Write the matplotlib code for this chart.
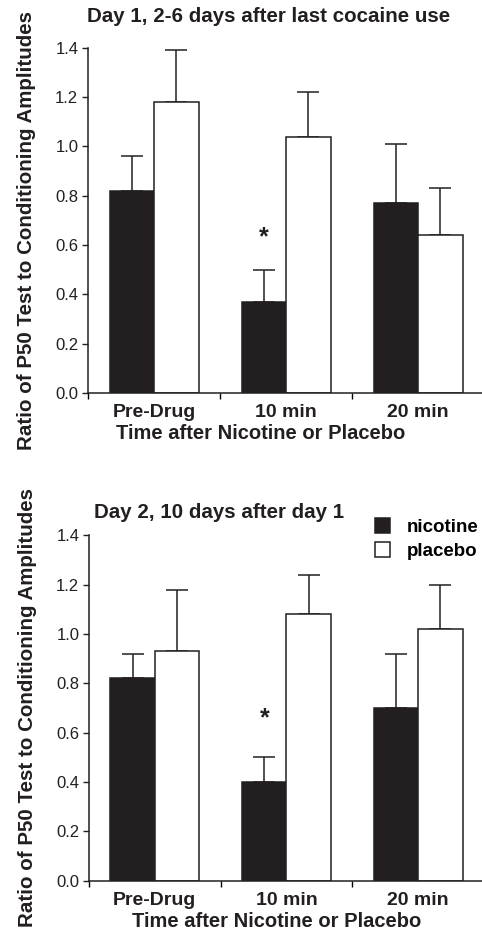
import matplotlib
matplotlib.use("Agg")
import matplotlib.pyplot as plt
import numpy as np

plt.rcParams["font.family"] = ["Liberation Sans", "DejaVu Sans"]

BAR_DARK = "#231f20"
INK = "#231f20"

categories = ["Pre-Drug", "10 min", "20 min"]

# Day 1
day1_nicotine = [0.82, 0.37, 0.77]
day1_nicotine_sem = [0.14, 0.13, 0.24]
day1_placebo = [1.18, 1.04, 0.64]
day1_placebo_sem = [0.21, 0.18, 0.19]
day1_star_y = 0.63

# Day 2
day2_nicotine = [0.82, 0.40, 0.70]
day2_nicotine_sem = [0.10, 0.10, 0.22]
day2_placebo = [0.93, 1.08, 1.02]
day2_placebo_sem = [0.25, 0.16, 0.18]
day2_star_y = 0.66

titles = ["Day 1, 2-6 days after last cocaine use", "Day 2, 10 days after day 1"]
yticks = [0.0, 0.2, 0.4, 0.6, 0.8, 1.0, 1.2, 1.4]


def draw_panel(ax, nic, nic_sem, plac, plac_sem, star_y, title, title_xy, xlab_x, ylab_y, legend=False):
    x = np.arange(len(categories))
    w = 0.337
    ax.bar(x - w / 2, nic, w, color=BAR_DARK, edgecolor=INK, linewidth=1.1, label="nicotine", zorder=2)
    ax.bar(x + w / 2, plac, w, color="white", edgecolor=INK, linewidth=1.1, label="placebo", zorder=2)
    ax.errorbar(x - w / 2, nic, yerr=[np.zeros(len(nic)), nic_sem], fmt="none",
                ecolor=INK, elinewidth=1.1, capsize=8, capthick=1.1, zorder=1)
    ax.errorbar(x + w / 2, plac, yerr=[np.zeros(len(plac)), plac_sem], fmt="none",
                ecolor=INK, elinewidth=1.1, capsize=8, capthick=1.1, zorder=1)
    ax.text(1 - w / 2, star_y, "*", ha="center", va="center", fontsize=18, fontweight="bold", color=INK)

    ax.set_xlim(-0.5, 2.5)
    ax.set_ylim(0, 1.4)
    ax.set_yticks(yticks)
    ax.set_yticklabels([f"{v:.1f}" for v in yticks])
    ax.tick_params(axis="y", direction="out", length=4, width=1, labelsize=12, colors=INK, pad=3)

    ax.set_xticks([-0.5, 0.5, 1.5])
    ax.set_xticklabels([])
    ax.tick_params(axis="x", which="major", direction="out", length=4, width=1)
    ax.set_xticks(x, minor=True)
    ax.set_xticklabels(categories, minor=True, fontsize=14, fontweight="bold", color=INK)
    ax.tick_params(axis="x", which="minor", length=0, pad=8)

    for side in ["top", "right"]:
        ax.spines[side].set_visible(False)
    for side in ["left", "bottom"]:
        ax.spines[side].set_linewidth(1.1)
        ax.spines[side].set_color(INK)

    ax.set_xlabel("Time after Nicotine or Placebo", fontsize=14.5, fontweight="bold", color=INK, va="center")
    ax.xaxis.set_label_coords(xlab_x, -0.117)
    ax.set_ylabel("Ratio of P50 Test to Conditioning Amplitudes", fontsize=14.8, fontweight="bold",
                  color=INK, va="center")
    ax.yaxis.set_label_coords(-0.155, ylab_y)
    ax.text(title_xy[0], title_xy[1], title, transform=ax.transAxes, ha="center", va="center",
            fontsize=14.8, fontweight="bold", color=INK)

    if legend:
        ax.legend(loc="upper left", bbox_to_anchor=(0.724, 1.05), frameon=False, borderpad=0,
                  borderaxespad=0, handlelength=0.8, handleheight=0.85,
                  handletextpad=0.9, labelspacing=0.3, prop={"weight": "bold", "size": 13.5})


fig = plt.figure(figsize=(4.82, 9.34), dpi=100, facecolor="white")
ax1 = fig.add_axes([0.1826, 0.5792, 0.8216, 0.3697])
ax2 = fig.add_axes([0.1846, 0.0571, 0.8195, 0.3698])

draw_panel(ax1, day1_nicotine, day1_nicotine_sem, day1_placebo, day1_placebo_sem, day1_star_y,
           titles[0], (0.456, 1.089), 0.437, 0.47)
draw_panel(ax2, day2_nicotine, day2_nicotine_sem, day2_placebo, day2_placebo_sem, day2_star_y,
           titles[1], (0.329, 1.0646), 0.476, 0.50, legend=True)

fig.savefig("out.png", dpi=100, facecolor="white")
plt.close(fig)
